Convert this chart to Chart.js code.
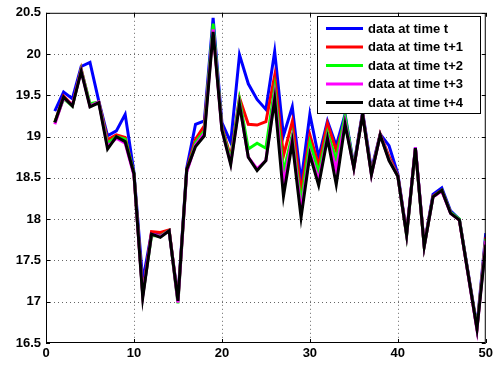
<!DOCTYPE html>
<html>
<head>
<meta charset="utf-8">
<script src="https://cdn.jsdelivr.net/npm/chart.js@4/dist/chart.umd.min.js"></script>
<style>
  html, body { margin: 0; padding: 0; background: #fff; }
  #wrap { width: 496px; height: 365px; }
</style>
</head>
<body>
<div id="wrap"><canvas id="myChart" width="496" height="365"></canvas></div>
<script>
// x positions 1..50
const xValues = [1,2,3,4,5,6,7,8,9,10,11,12,13,14,15,16,17,18,19,20,21,22,23,24,25,26,27,28,29,30,31,32,33,34,35,36,37,38,39,40,41,42,43,44,45,46,47,48,49,50]

const seriesLabels = ['data at time t', 'data at time t+1', 'data at time t+2', 'data at time t+3', 'data at time t+4']

const dataT  = [19.31,19.54,19.46,19.85,19.90,19.43,19.01,19.07,19.27,18.57,17.25,17.84,17.82,17.86,17.05,18.62,19.15,19.19,20.44,19.17,18.93,19.99,19.64,19.45,19.33,20.03,19.01,19.36,18.45,19.27,18.75,19.19,18.89,19.27,18.65,19.30,18.60,19.03,18.89,18.55,17.83,18.87,17.69,18.30,18.38,18.10,18.00,17.35,16.70,17.83]
const dataT1 = [19.17,19.49,19.38,19.82,19.38,19.42,18.96,19.02,18.99,18.55,17.10,17.85,17.84,17.87,17.02,18.60,18.97,19.13,20.30,19.12,18.75,19.47,19.15,19.14,19.18,19.74,18.77,19.18,18.33,19.02,18.65,19.16,18.83,19.20,18.63,19.28,18.56,19.03,18.76,18.53,17.82,18.86,17.68,18.28,18.35,18.08,17.99,17.34,16.68,17.78]
const dataT2 = [19.17,19.46,19.37,19.81,19.40,19.42,18.92,19.00,18.97,18.55,17.08,17.80,17.80,17.86,16.98,18.58,18.93,19.07,20.37,19.10,18.72,19.45,18.85,18.92,18.86,19.59,18.57,19.02,18.20,18.93,18.57,19.05,18.72,19.25,18.63,19.28,18.55,19.02,18.73,18.52,17.80,18.85,17.67,18.27,18.35,18.08,18.00,17.33,16.68,17.76]
const dataT3 = [19.15,19.47,19.38,19.80,19.37,19.42,18.88,18.98,18.92,18.53,17.07,17.82,17.79,17.86,16.99,18.57,18.90,19.04,20.30,19.08,18.68,19.40,18.75,18.61,18.71,19.50,18.43,18.97,18.10,18.81,18.47,19.00,18.60,19.18,18.62,19.28,18.54,19.02,18.72,18.52,17.81,18.87,17.67,18.27,18.34,18.07,17.99,17.32,16.66,17.74]
const dataT4 = [19.17,19.48,19.37,19.79,19.36,19.41,18.85,19.00,18.94,18.55,17.05,17.82,17.78,17.86,17.01,18.60,18.88,19.01,20.27,19.08,18.66,19.39,18.75,18.59,18.71,19.45,18.28,18.93,18.02,18.78,18.41,18.98,18.42,19.15,18.62,19.27,18.54,19.02,18.71,18.52,17.81,18.86,17.67,18.27,18.35,18.07,17.99,17.33,16.67,17.69]

const seriesData = [dataT, dataT1, dataT2, dataT3, dataT4]
const seriesColors = ['#0000ff', '#ff0000', '#00ff00', '#ff00ff', '#000000']

const FONT = 'Liberation Sans, Arial, sans-serif'

// dotted grid, drawn before the lines
const dottedGrid = {
    id: 'dottedGrid',
    beforeDatasetsDraw(chart) {
        const c = chart.ctx
        const a = chart.chartArea
        const xs = chart.scales.x
        const ys = chart.scales.y
        c.save()
        c.strokeStyle = 'rgba(0,0,0,0.6)'
        c.lineWidth = 1
        c.setLineDash([1, 3])
        c.beginPath()
        xs.ticks.forEach(t => {
            if (t.value === xs.min || t.value === xs.max) return
            const px = Math.round(xs.getPixelForValue(t.value)) + 0.5
            c.moveTo(px, a.top); c.lineTo(px, a.bottom)
        })
        ys.ticks.forEach(t => {
            if (t.value === ys.min || t.value === ys.max) return
            const py = Math.round(ys.getPixelForValue(t.value)) + 0.5
            c.moveTo(a.left, py); c.lineTo(a.right, py)
        })
        c.stroke()
        c.restore()
    }
}

// matlab style box, inward ticks and a legend inside the axes
const matlabBox = {
    id: 'matlabBox',
    afterDraw(chart) {
        const c = chart.ctx
        const a = chart.chartArea
        const xs = chart.scales.x
        const ys = chart.scales.y
        c.save()
        c.strokeStyle = '#000'
        c.lineWidth = 1
        c.strokeRect(a.left + 0.5, a.top + 0.5, a.right - a.left - 1, a.bottom - a.top - 1)
        c.beginPath()
        xs.ticks.forEach(t => {
            const px = Math.round(xs.getPixelForValue(t.value)) + 0.5
            c.moveTo(px, a.bottom); c.lineTo(px, a.bottom - 4)
            c.moveTo(px, a.top); c.lineTo(px, a.top + 4)
        })
        ys.ticks.forEach(t => {
            const py = Math.round(ys.getPixelForValue(t.value)) + 0.5
            c.moveTo(a.left, py); c.lineTo(a.left + 4, py)
            c.moveTo(a.right, py); c.lineTo(a.right - 4, py)
        })
        c.stroke()

        // legend
        const bx = 317.5, by = 16.5, bw = 163, bh = 97
        c.fillStyle = '#fff'
        c.fillRect(bx, by, bw, bh)
        c.strokeRect(bx, by, bw, bh)
        c.font = 'bold 13px ' + FONT
        c.textBaseline = 'middle'
        seriesLabels.forEach((lab, i) => {
            const y = 28.5 + i * 18.5
            c.strokeStyle = seriesColors[i]
            c.lineWidth = 2.8
            c.beginPath()
            c.moveTo(326, y); c.lineTo(363, y)
            c.stroke()
            c.fillStyle = '#000'
            c.fillText(lab, 368, y + 0.5)
        })
        c.restore()
    }
}

const ctx = document.getElementById('myChart').getContext('2d')

const myChart = new Chart(ctx, {
    type: 'line',
    data: {
        datasets: seriesData.map((d, i) => ({
            label: seriesLabels[i],
            data: d.map((v, j) => ({ x: xValues[j], y: v })),
            borderColor: seriesColors[i],
            backgroundColor: seriesColors[i],
            borderWidth: 3,
            pointRadius: 0,
            tension: 0,
            fill: false,
            order: 4 - i
        }))
    },
    options: {
        responsive: false,
        animation: false,
        devicePixelRatio: 1,
        layout: { padding: { left: 0, right: 9, top: 10, bottom: 0 } },
        plugins: {
            legend: { display: false },
            tooltip: { enabled: false }
        },
        scales: {
            x: {
                type: 'linear',
                min: 0,
                max: 50,
                ticks: { stepSize: 10, padding: 3, color: '#000', font: { family: FONT, size: 13, weight: 'bold' } },
                grid: { display: false, drawTicks: false },
                border: { display: false },
                afterFit: s => { s.height = 22 }
            },
            y: {
                min: 16.5,
                max: 20.5,
                ticks: {
                    stepSize: 0.5,
                    padding: 5,
                    color: '#000',
                    font: { family: FONT, size: 13, weight: 'bold' },
                    callback: v => String(Math.round(v * 10) / 10)
                },
                grid: { display: false, drawTicks: false },
                border: { display: false },
                afterFit: s => { s.width = 46 }
            }
        }
    },
    plugins: [dottedGrid, matlabBox]
})
</script>
</body>
</html>
